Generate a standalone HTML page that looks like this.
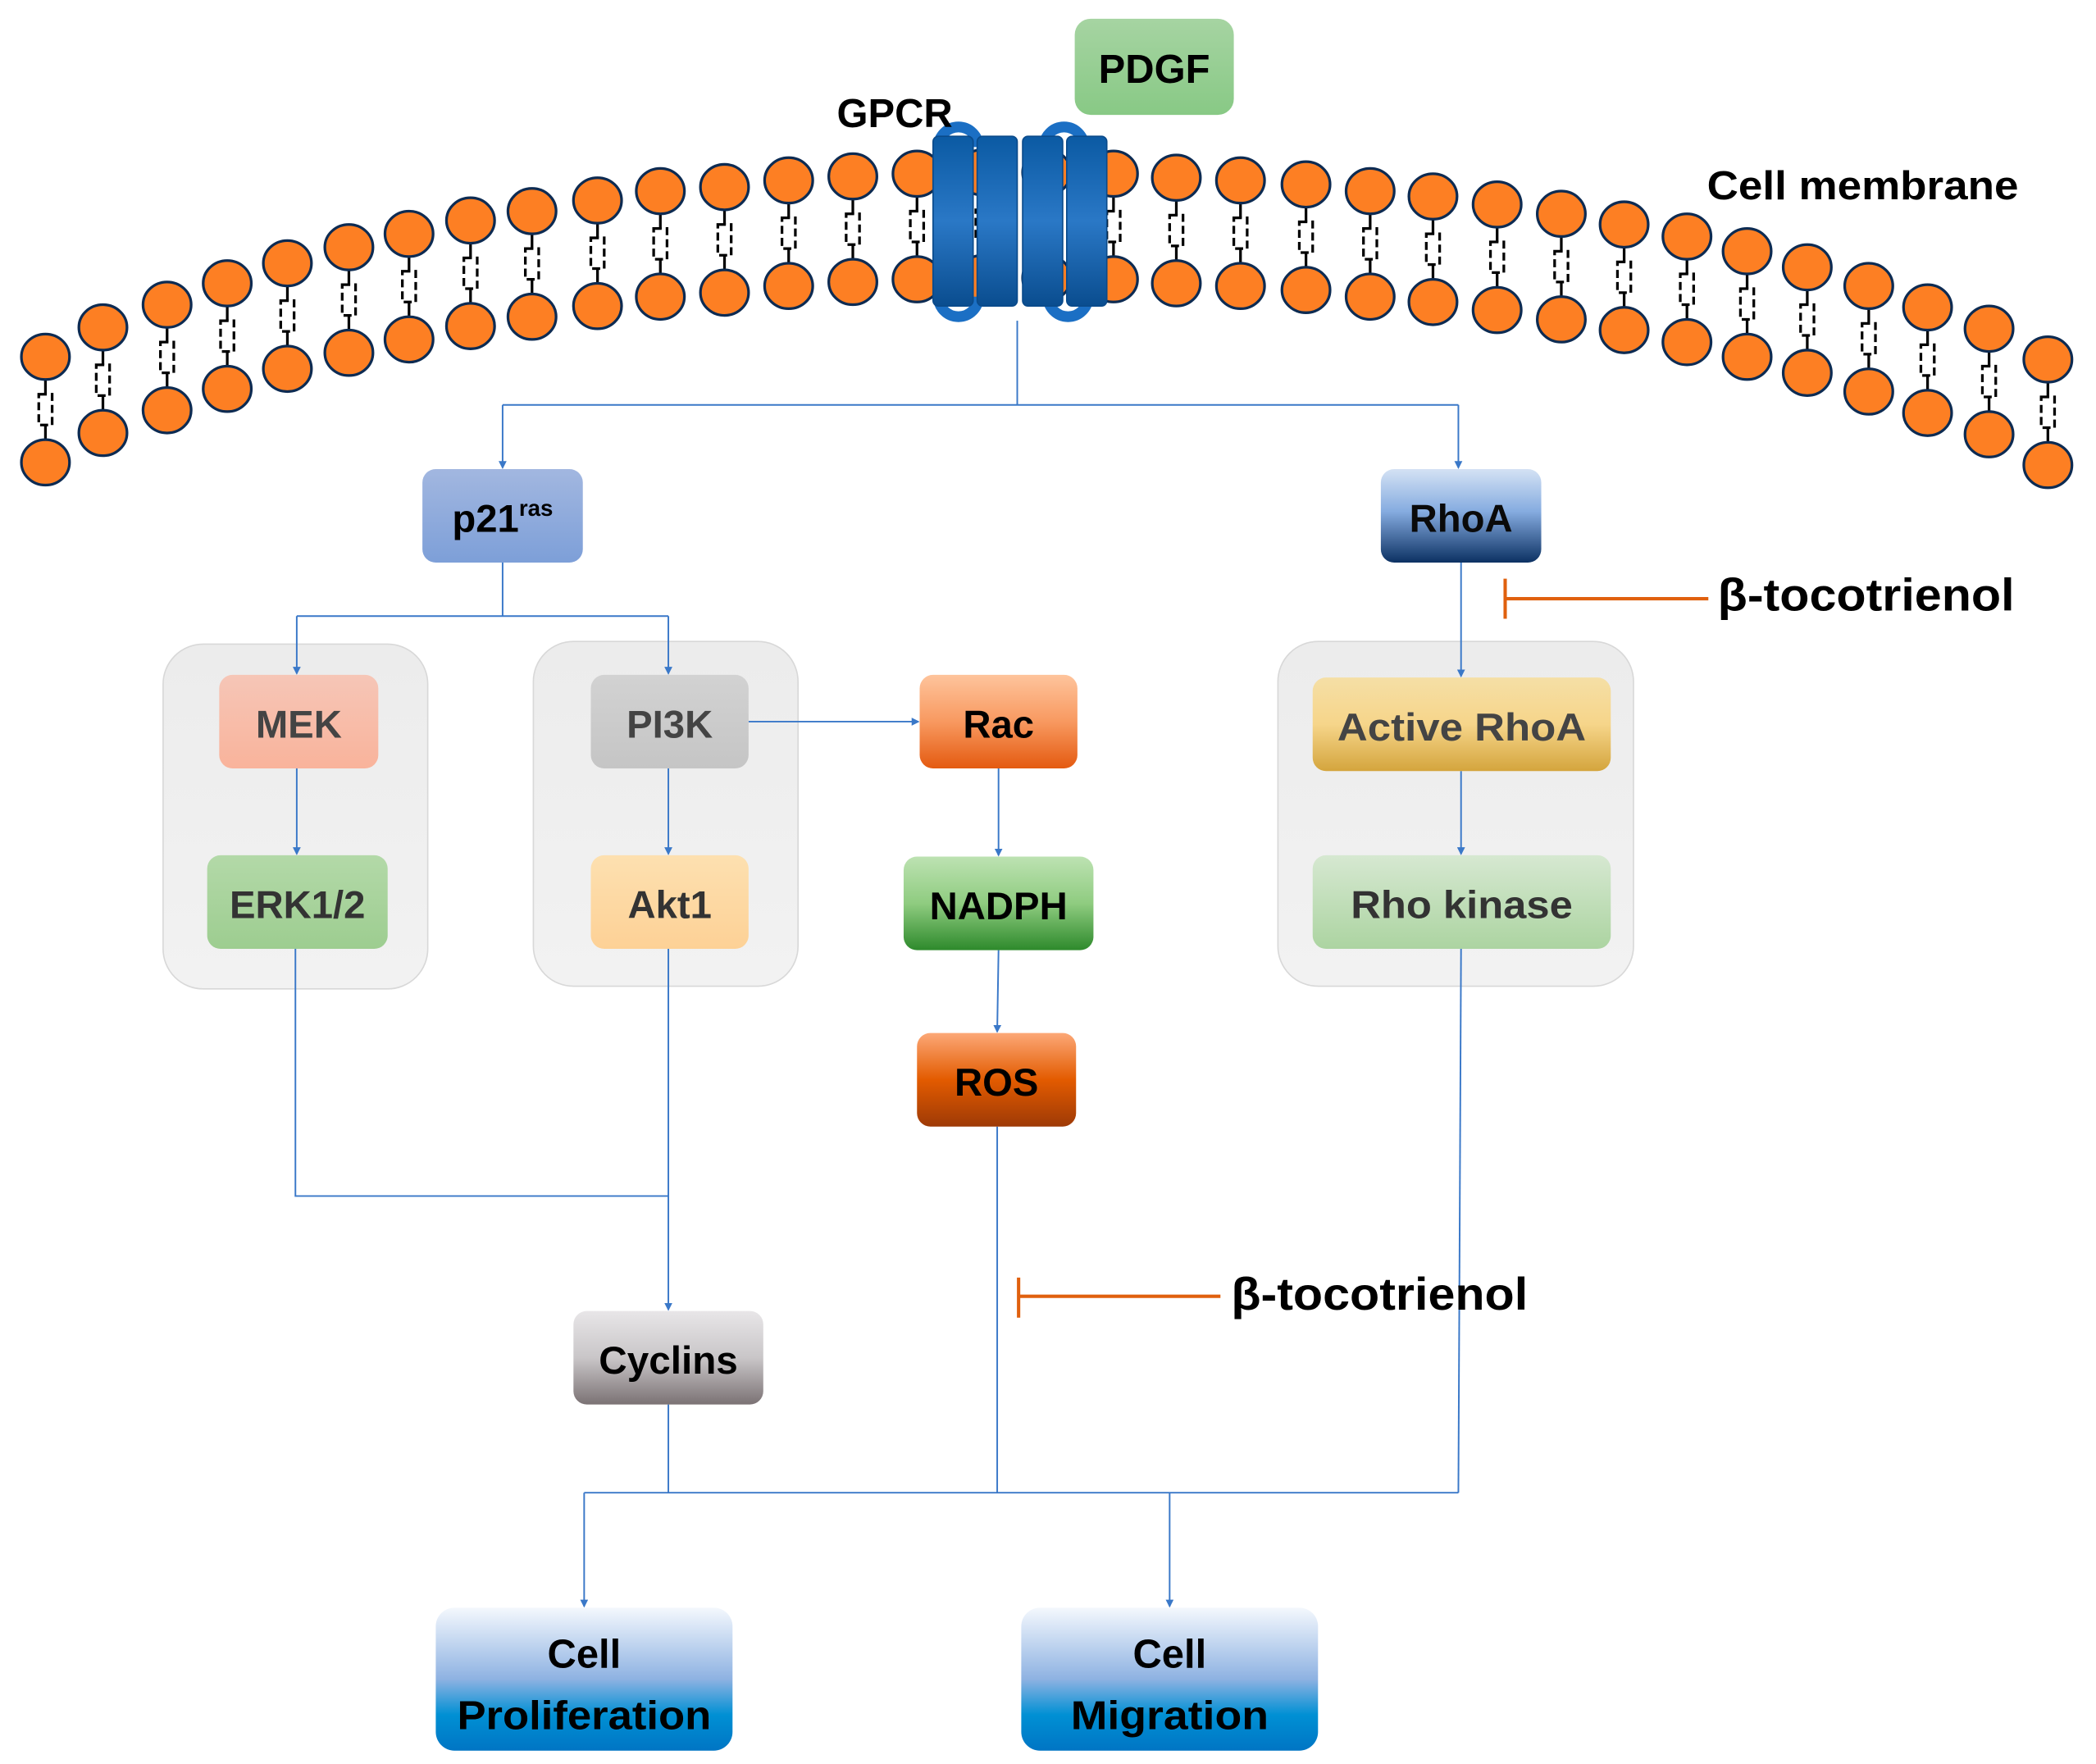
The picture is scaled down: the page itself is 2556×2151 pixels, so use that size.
<!DOCTYPE html>
<html><head><meta charset="utf-8"><style>html,body{margin:0;padding:0;background:#fff}svg{display:block}</style></head>
<body>
<svg width="2556" height="2151" viewBox="0 0 1568 1320" preserveAspectRatio="none" xmlns="http://www.w3.org/2000/svg" font-family="'Liberation Sans', sans-serif" font-weight="bold">
<defs>
<g id="lip">
<line x1="0" y1="17" x2="0" y2="28" stroke="#000" stroke-width="2"/>
<rect x="-5" y="28" width="10" height="23" fill="none" stroke="#000" stroke-width="2" stroke-dasharray="6,3"/>
<line x1="0" y1="51" x2="0" y2="62" stroke="#000" stroke-width="2"/>
<ellipse cx="0" cy="0" rx="18" ry="17" fill="#fd7f23" stroke="#0d2b52" stroke-width="2"/>
<ellipse cx="0" cy="79" rx="18" ry="17" fill="#fd7f23" stroke="#0d2b52" stroke-width="2"/>
</g>
<linearGradient id="hel" x1="0" y1="0" x2="0" y2="1"><stop offset="0" stop-color="#0b5aa3"/><stop offset=".5" stop-color="#2a78c6"/><stop offset="1" stop-color="#0a4d8f"/></linearGradient>
<linearGradient id="gPDGF" x1="0" y1="0" x2="0" y2="1"><stop offset="0" stop-color="#a6d4a2"/><stop offset="1" stop-color="#88c985"/></linearGradient>
<linearGradient id="gP21" x1="0" y1="0" x2="0" y2="1"><stop offset="0" stop-color="#a2b7e0"/><stop offset="1" stop-color="#7d9fd8"/></linearGradient>
<linearGradient id="gRhoA" x1="0" y1="0" x2="0" y2="1"><stop offset="0" stop-color="#d4e2f4"/><stop offset=".45" stop-color="#86ace0"/><stop offset="1" stop-color="#0c3163"/></linearGradient>
<linearGradient id="gMEK" x1="0" y1="0" x2="0" y2="1"><stop offset="0" stop-color="#f6c6b7"/><stop offset="1" stop-color="#f9b39b"/></linearGradient>
<linearGradient id="gERK" x1="0" y1="0" x2="0" y2="1"><stop offset="0" stop-color="#b3d9a8"/><stop offset="1" stop-color="#9dcd90"/></linearGradient>
<linearGradient id="gPI3K" x1="0" y1="0" x2="0" y2="1"><stop offset="0" stop-color="#d2d2d2"/><stop offset="1" stop-color="#c5c5c5"/></linearGradient>
<linearGradient id="gAkt" x1="0" y1="0" x2="0" y2="1"><stop offset="0" stop-color="#fde0b0"/><stop offset="1" stop-color="#fdd196"/></linearGradient>
<linearGradient id="gRac" x1="0" y1="0" x2="0" y2="1"><stop offset="0" stop-color="#fec49c"/><stop offset=".5" stop-color="#f89960"/><stop offset="1" stop-color="#e45a10"/></linearGradient>
<linearGradient id="gNAD" x1="0" y1="0" x2="0" y2="1"><stop offset="0" stop-color="#bde2b2"/><stop offset=".5" stop-color="#8fcc80"/><stop offset="1" stop-color="#2e8a2c"/></linearGradient>
<linearGradient id="gROS" x1="0" y1="0" x2="0" y2="1"><stop offset="0" stop-color="#fca877"/><stop offset=".5" stop-color="#e35b00"/><stop offset="1" stop-color="#9e3a06"/></linearGradient>
<linearGradient id="gAct" x1="0" y1="0" x2="0" y2="1"><stop offset="0" stop-color="#f5dfa6"/><stop offset=".5" stop-color="#f6d58a"/><stop offset="1" stop-color="#d4a53d"/></linearGradient>
<linearGradient id="gRK" x1="0" y1="0" x2="0" y2="1"><stop offset="0" stop-color="#d6e8d1"/><stop offset="1" stop-color="#acd4a1"/></linearGradient>
<linearGradient id="gCyc" x1="0" y1="0" x2="0" y2="1"><stop offset="0" stop-color="#e8e6e8"/><stop offset=".5" stop-color="#c9c6c8"/><stop offset="1" stop-color="#7b7274"/></linearGradient>
<linearGradient id="gCell" x1="0" y1="0" x2="0" y2="1"><stop offset="0" stop-color="#f4f8fd"/><stop offset=".5" stop-color="#8eb2e2"/><stop offset=".75" stop-color="#0090d4"/><stop offset="1" stop-color="#0075c4"/></linearGradient>
<linearGradient id="gGrp" x1="0" y1="0" x2="0" y2="1"><stop offset="0" stop-color="#ececec"/><stop offset="1" stop-color="#f2f2f2"/></linearGradient>
<marker id="ar" markerWidth="6" markerHeight="6" refX="5" refY="3" orient="auto" markerUnits="userSpaceOnUse"><path d="M0,0 L6,3 L0,6 z" fill="#3a78c8"/></marker>
</defs>

<!-- lipids -->
<use href="#lip" x="34" y="267"/>
<use href="#lip" x="77" y="245"/>
<use href="#lip" x="125" y="228"/>
<use href="#lip" x="170" y="212"/>
<use href="#lip" x="215" y="197"/>
<use href="#lip" x="261" y="185"/>
<use href="#lip" x="306" y="175"/>
<use href="#lip" x="352" y="165"/>
<use href="#lip" x="398" y="158"/>
<use href="#lip" x="447" y="150"/>
<use href="#lip" x="494" y="143"/>
<use href="#lip" x="542" y="140"/>
<use href="#lip" x="590" y="135"/>
<use href="#lip" x="638" y="132"/>
<use href="#lip" x="686" y="130"/>
<use href="#lip" x="735" y="129"/>
<use href="#lip" x="783" y="129"/>
<use href="#lip" x="833" y="130"/>
<use href="#lip" x="880" y="133"/>
<use href="#lip" x="928" y="135"/>
<use href="#lip" x="977" y="138"/>
<use href="#lip" x="1025" y="143"/>
<use href="#lip" x="1072" y="147"/>
<use href="#lip" x="1120" y="153"/>
<use href="#lip" x="1168" y="160"/>
<use href="#lip" x="1215" y="168"/>
<use href="#lip" x="1262" y="177"/>
<use href="#lip" x="1307" y="188"/>
<use href="#lip" x="1352" y="200"/>
<use href="#lip" x="1398" y="214"/>
<use href="#lip" x="1442" y="230"/>
<use href="#lip" x="1488" y="246"/>
<use href="#lip" x="1532" y="269"/>

<!-- GPCR -->
<g fill="none" stroke="#1b6fc4" stroke-width="8">
<path d="M702,110 A15,15 0 0 1 732,110"/>
<path d="M781,110 A15,15 0 0 1 811,110"/>
<path d="M702,222 A15,15 0 0 0 732,222"/>
<path d="M784,222 A15,15 0 0 0 814,222"/>
</g>
<g fill="url(#hel)" stroke="#0a4a8a" stroke-width="1">
<rect x="698" y="102" width="30" height="127" rx="4"/>
<rect x="731" y="102" width="30" height="127" rx="4"/>
<rect x="765" y="102" width="30" height="127" rx="4"/>
<rect x="798" y="102" width="30" height="127" rx="4"/>
</g>

<text x="626" y="95" font-size="30">GPCR</text>
<text x="1277" y="149" font-size="30" textLength="233" lengthAdjust="spacingAndGlyphs">Cell membrane</text>

<rect x="804" y="14" width="119" height="72" rx="12" fill="url(#gPDGF)"/>
<text x="863.5" y="62" font-size="30" text-anchor="middle">PDGF</text>

<!-- group boxes -->
<rect x="122" y="482" width="198" height="258" rx="30" fill="url(#gGrp)" stroke="#d8d8d8" stroke-width="1"/>
<rect x="399" y="480" width="198" height="258" rx="30" fill="url(#gGrp)" stroke="#d8d8d8" stroke-width="1"/>
<rect x="956" y="480" width="266" height="258" rx="30" fill="url(#gGrp)" stroke="#d8d8d8" stroke-width="1"/>

<!-- connectors -->
<g stroke="#3a78c8" stroke-width="1.2" fill="none">
<path d="M761,240 V303"/>
<path d="M376,303 H1091"/>
<path d="M376,303 V350" marker-end="url(#ar)"/>
<path d="M1091,303 V350" marker-end="url(#ar)"/>
<path d="M376,421 V461 M222,461 H500"/>
<path d="M222,461 V504" marker-end="url(#ar)"/>
<path d="M500,461 V504" marker-end="url(#ar)"/>
<path d="M222,575 V639" marker-end="url(#ar)"/>
<path d="M500,575 V639" marker-end="url(#ar)"/>
<path d="M560,540 H687" marker-end="url(#ar)"/>
<path d="M747,575 V640" marker-end="url(#ar)"/>
<path d="M747,711 L746,772" marker-end="url(#ar)"/>
<path d="M1093,421 V506" marker-end="url(#ar)"/>
<path d="M1093,577 V639" marker-end="url(#ar)"/>
<path d="M221,710 V895 H500"/>
<path d="M500,710 V980" marker-end="url(#ar)"/>
<path d="M500,1051 V1117"/>
<path d="M746,843 V1117"/>
<path d="M1093,710 L1091,1117"/>
<path d="M437,1117 H1091"/>
<path d="M437,1117 V1202" marker-end="url(#ar)"/>
<path d="M875,1117 V1202" marker-end="url(#ar)"/>
</g>

<!-- inhibition -->
<g stroke="#e0600e" stroke-width="2.5">
<path d="M1126,448 H1278 M1126,433 V463"/>
<path d="M762,970 H913 M762,956 V986"/>
</g>
<text x="1285" y="457" font-size="34" textLength="222" lengthAdjust="spacingAndGlyphs">β-tocotrienol</text>
<text x="921" y="980" font-size="34" textLength="222" lengthAdjust="spacingAndGlyphs">β-tocotrienol</text>

<!-- nodes -->
<rect x="316" y="351" width="120" height="70" rx="10" fill="url(#gP21)"/>
<text x="376" y="398" font-size="29" text-anchor="middle">p21<tspan font-size="17" dy="-12">ras</tspan></text>

<rect x="1033" y="351" width="120" height="70" rx="10" fill="url(#gRhoA)"/>
<text x="1093" y="398" font-size="29" text-anchor="middle" fill="#0a0a0a">RhoA</text>

<rect x="164" y="505" width="119" height="70" rx="10" fill="url(#gMEK)"/>
<text x="223.5" y="552" font-size="29" text-anchor="middle" fill="#444">MEK</text>

<rect x="155" y="640" width="135" height="70" rx="10" fill="url(#gERK)"/>
<text x="222.5" y="687" font-size="29" text-anchor="middle" fill="#333">ERK1/2</text>

<rect x="442" y="505" width="118" height="70" rx="10" fill="url(#gPI3K)"/>
<text x="501" y="552" font-size="29" text-anchor="middle" fill="#444">PI3K</text>

<rect x="442" y="640" width="118" height="70" rx="10" fill="url(#gAkt)"/>
<text x="501" y="687" font-size="29" text-anchor="middle" fill="#333">Akt1</text>

<rect x="688" y="505" width="118" height="70" rx="10" fill="url(#gRac)"/>
<text x="747" y="552" font-size="29" text-anchor="middle">Rac</text>

<rect x="676" y="641" width="142" height="70" rx="10" fill="url(#gNAD)"/>
<text x="747" y="688" font-size="29" text-anchor="middle">NADPH</text>

<rect x="686" y="773" width="119" height="70" rx="10" fill="url(#gROS)"/>
<text x="745.5" y="820" font-size="29" text-anchor="middle">ROS</text>

<rect x="982" y="507" width="223" height="70" rx="10" fill="url(#gAct)"/>
<text x="1093.5" y="554" font-size="29" text-anchor="middle" fill="#444" textLength="186" lengthAdjust="spacingAndGlyphs">Active RhoA</text>

<rect x="982" y="640" width="223" height="70" rx="10" fill="url(#gRK)"/>
<text x="1093.5" y="687" font-size="29" text-anchor="middle" fill="#333" textLength="166" lengthAdjust="spacingAndGlyphs">Rho kinase</text>

<rect x="429" y="981" width="142" height="70" rx="10" fill="url(#gCyc)"/>
<text x="500" y="1028" font-size="29" text-anchor="middle" textLength="104" lengthAdjust="spacingAndGlyphs">Cyclins</text>

<rect x="326" y="1203" width="222" height="107" rx="14" fill="url(#gCell)"/>
<text x="437" y="1248" font-size="30" text-anchor="middle">Cell</text>
<text x="437" y="1294" font-size="30" text-anchor="middle" textLength="190" lengthAdjust="spacingAndGlyphs">Proliferation</text>

<rect x="764" y="1203" width="222" height="107" rx="14" fill="url(#gCell)"/>
<text x="875" y="1248" font-size="30" text-anchor="middle">Cell</text>
<text x="875" y="1294" font-size="30" text-anchor="middle" textLength="148" lengthAdjust="spacingAndGlyphs">Migration</text>
</svg>
</body></html>
